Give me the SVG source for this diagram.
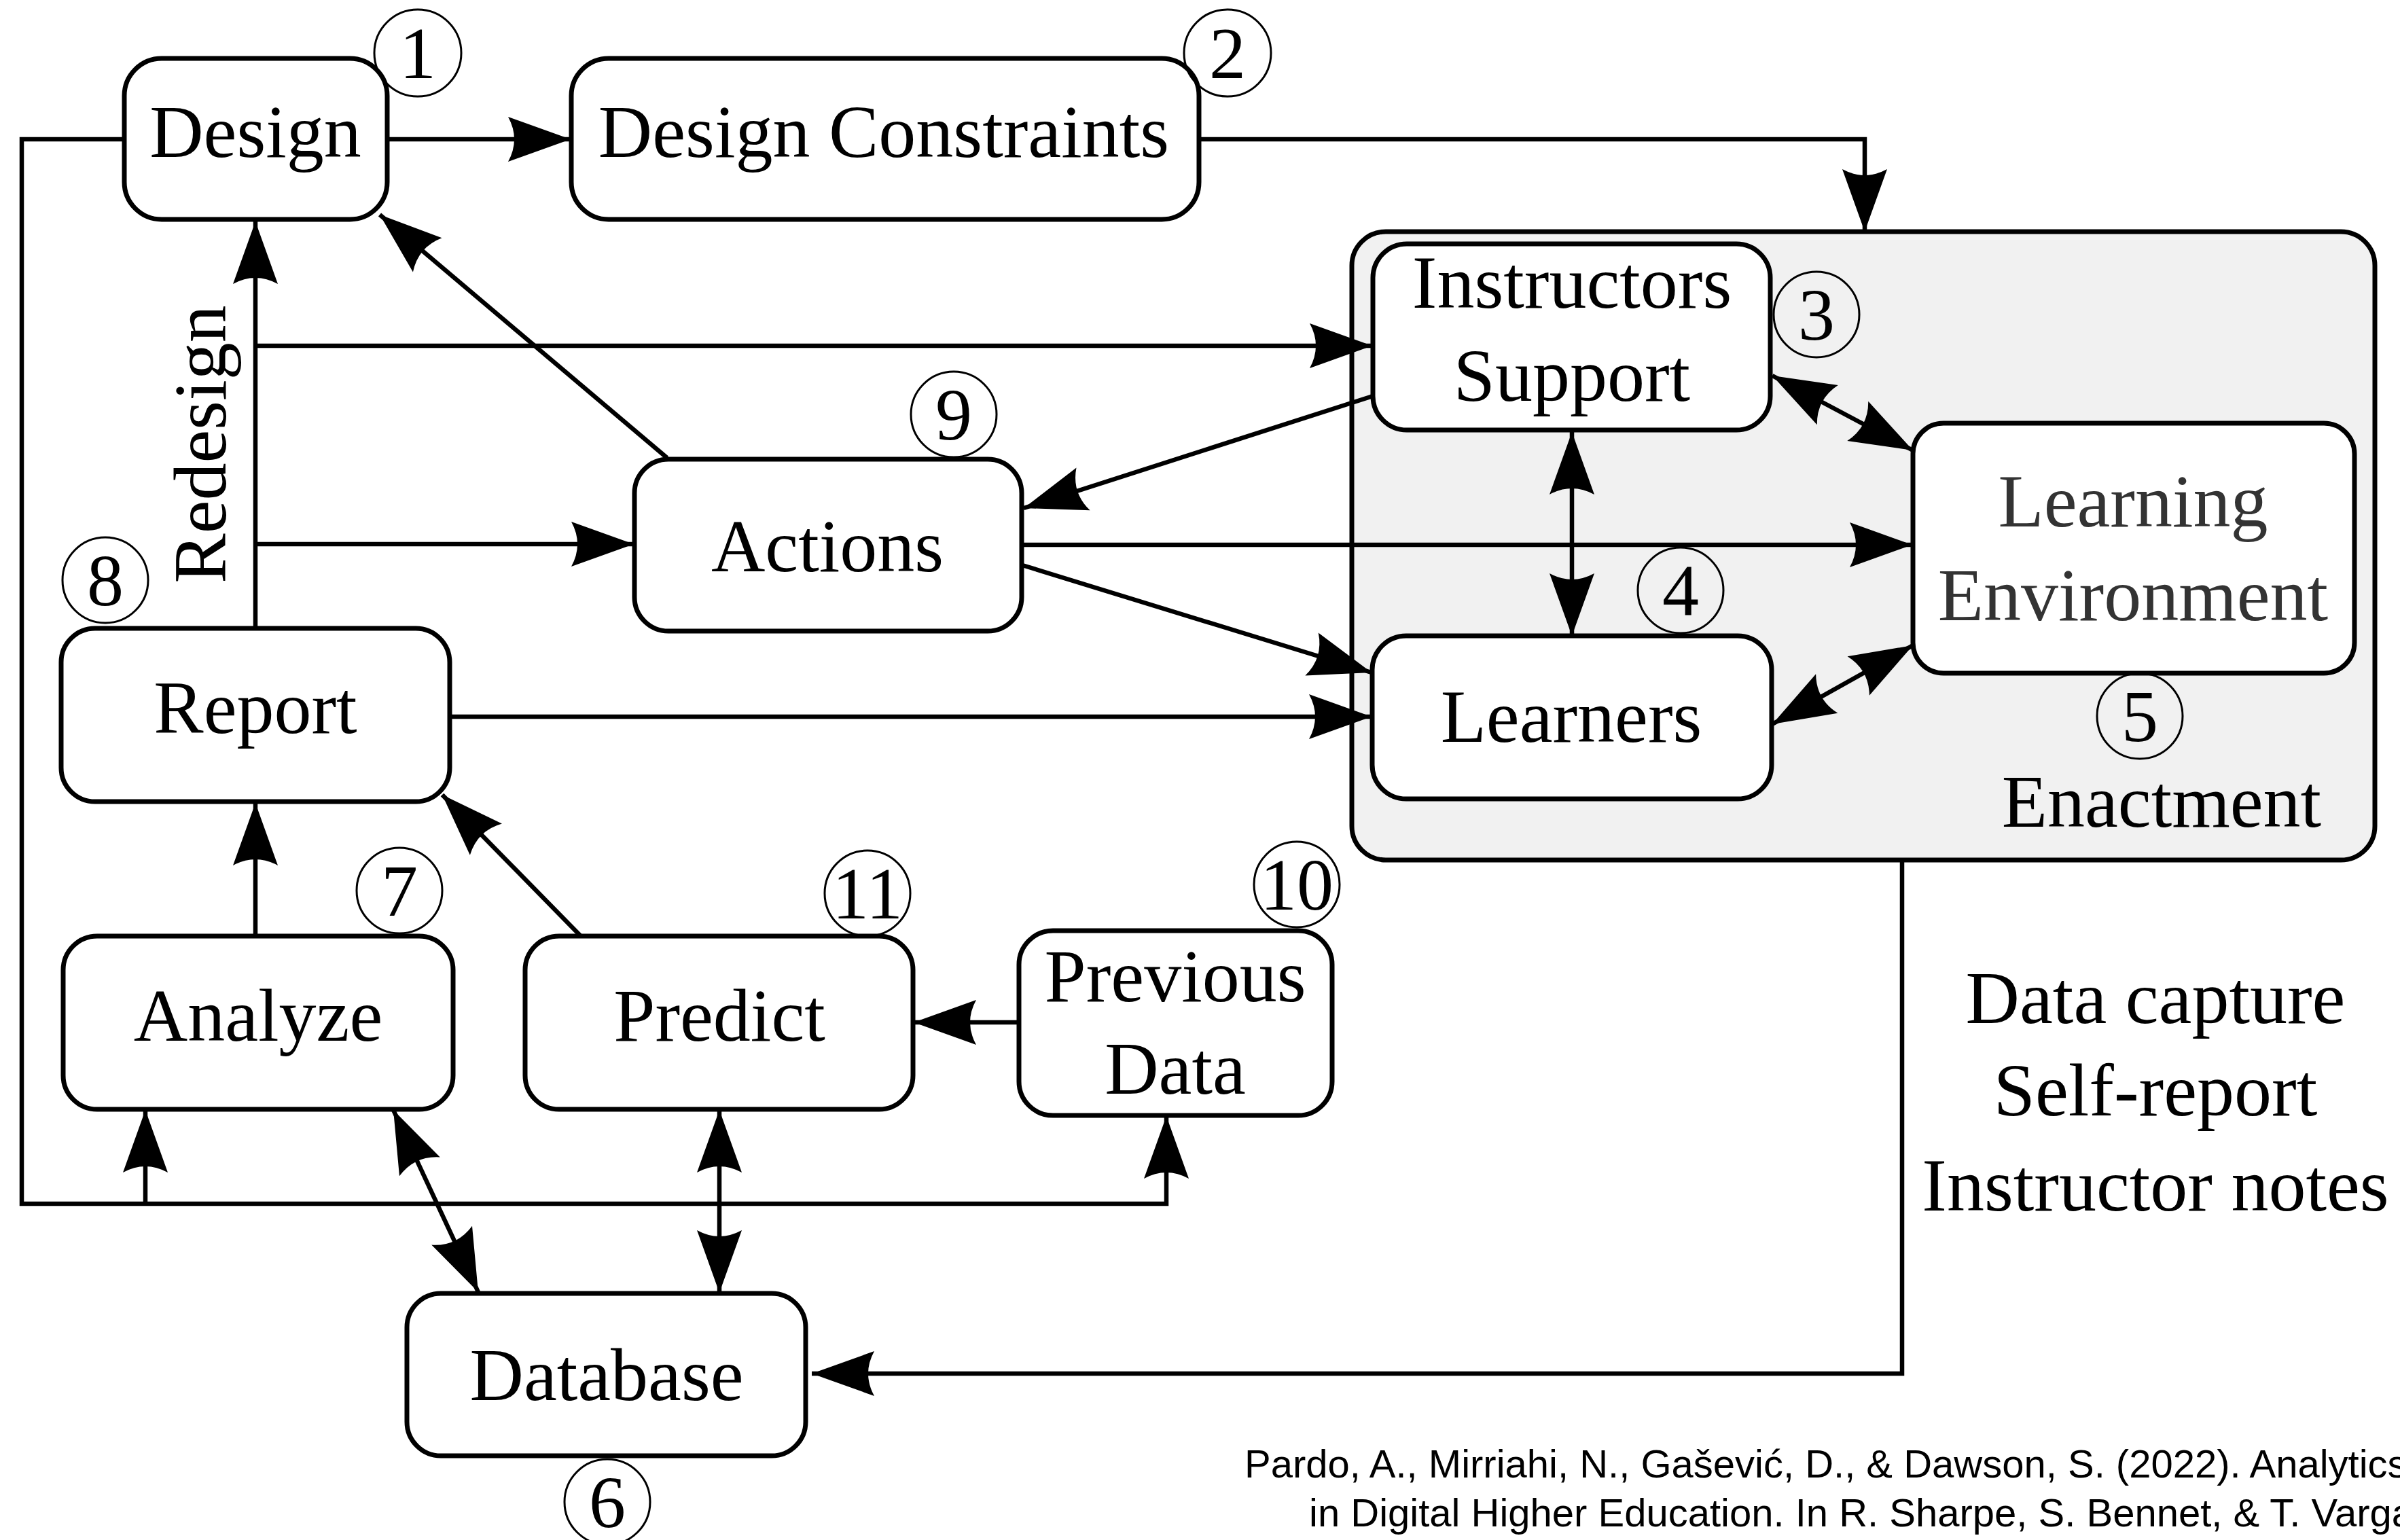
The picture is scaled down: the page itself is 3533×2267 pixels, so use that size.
<svg xmlns="http://www.w3.org/2000/svg" width="3533" height="2267" viewBox="0 0 3533 2267">
  <style>
    .box { fill: #ffffff; stroke: #000000; stroke-width: 7; }
    .frame { fill: #f1f1f1; stroke: #000000; stroke-width: 7; }
    .lbl { font-family: "Liberation Serif", "Times New Roman", serif; font-size: 110px; fill: #000000; text-anchor: middle; }
    .grey { fill: #333333; }
    .num { font-family: "Liberation Serif", "Times New Roman", serif; font-size: 108px; fill: #000000; text-anchor: middle; }
    .ring { fill: none; stroke: #000000; stroke-width: 3; }
    .cite { font-family: "Liberation Sans", Arial, Helvetica, sans-serif; font-size: 58px; fill: #000000; }
    .wire { fill: none; stroke: #000000; stroke-width: 6.5; stroke-linejoin: miter; }
    .one { marker-end: url(#head); }
    .two { marker-start: url(#head); marker-end: url(#head); }
  </style>
  <defs>
    <marker id="head" viewBox="-100 -40 110 80" refX="0" refY="0" markerWidth="110" markerHeight="80" markerUnits="userSpaceOnUse" orient="auto-start-reverse">
      <path d="M0,0 L-92,-33 Q-74,0 -92,33 Z" fill="#000000"/>
    </marker>
  </defs>

  <rect width="3533" height="2267" fill="#ffffff"/>

  <!-- Enactment frame -->
  <g id="enactment">
    <rect class="frame" x="1990" y="341" width="1506" height="925" rx="50"/>
    <text class="lbl" x="3182" y="1217">Enactment</text>
  </g>

  <!-- Connectors -->
  <g id="connectors">
    <path class="wire one" d="M571,205 H840"/>
    <path class="wire one" d="M1765,205 H2745 V341"/>
    <path class="wire one" d="M183,205 H32 V1772 H1717 V1643"/>
    <path class="wire one" d="M214,1772 V1634"/>
    <path class="wire one" d="M376,925 V326"/>
    <path class="wire one" d="M376,509 H2020"/>
    <path class="wire one" d="M376,801 H933"/>
    <path class="wire one" d="M982,674 L559,316"/>
    <path class="wire one" d="M2021,583 L1507,748"/>
    <path class="wire one" d="M1505,802 H2815"/>
    <path class="wire one" d="M1505,832 L2019,990"/>
    <path class="wire one" d="M662,1055 H2019"/>
    <path class="wire two" d="M2314,636 V936"/>
    <path class="wire two" d="M2609,553 L2816,663"/>
    <path class="wire two" d="M2609,1066 L2816,950"/>
    <path class="wire one" d="M376,1378 V1182"/>
    <path class="wire one" d="M854,1377 L651,1170"/>
    <path class="wire one" d="M1500,1505 H1345"/>
    <path class="wire two" d="M579,1634 L704,1902"/>
    <path class="wire two" d="M1059,1634 V1903"/>
    <path class="wire one" d="M2800,1266 V2022 H1195"/>
  </g>

  <!-- Nodes -->
  <g id="design">
    <rect class="box" x="183" y="86" width="387" height="237" rx="55"/>
    <text class="lbl" x="376" y="231">Design</text>
    <circle class="ring" cx="615" cy="78" r="64"/>
    <text class="num" x="615" y="115">1</text>
  </g>

  <g id="design-constraints">
    <rect class="box" x="841" y="86" width="924" height="237" rx="55"/>
    <text class="lbl" x="1301" y="231">Design Constraints</text>
    <circle class="ring" cx="1807" cy="78" r="64"/>
    <text class="num" x="1807" y="115">2</text>
  </g>

  <g id="instructors-support">
    <rect class="box" x="2021" y="359" width="585" height="274" rx="50"/>
    <text class="lbl" x="2314" y="453">Instructors</text>
    <text class="lbl" x="2314" y="590">Support</text>
    <circle class="ring" cx="2674" cy="463" r="63"/>
    <text class="num" x="2674" y="500">3</text>
  </g>

  <g id="learners">
    <rect class="box" x="2020" y="936" width="588" height="240" rx="50"/>
    <text class="lbl" x="2313" y="1092">Learners</text>
    <circle class="ring" cx="2474" cy="869" r="63"/>
    <text class="num" x="2474" y="906">4</text>
  </g>

  <g id="learning-environment">
    <rect class="box" x="2816" y="623" width="650" height="368" rx="45"/>
    <text class="lbl grey" x="3140" y="775">Learning</text>
    <text class="lbl grey" x="3140" y="913">Environment</text>
    <circle class="ring" cx="3150" cy="1054" r="63"/>
    <text class="num" x="3150" y="1091">5</text>
  </g>

  <g id="database">
    <rect class="box" x="599" y="1904" width="587" height="239" rx="50"/>
    <text class="lbl" x="893" y="2061">Database</text>
    <circle class="ring" cx="894" cy="2211" r="63"/>
    <text class="num" x="894" y="2248">6</text>
  </g>

  <g id="analyze">
    <rect class="box" x="93" y="1378" width="574" height="255" rx="50"/>
    <text class="lbl" x="380" y="1532">Analyze</text>
    <circle class="ring" cx="588" cy="1311" r="63"/>
    <text class="num" x="588" y="1348">7</text>
  </g>

  <g id="report">
    <rect class="box" x="90" y="925" width="572" height="255" rx="50"/>
    <text class="lbl" x="376" y="1079">Report</text>
    <circle class="ring" cx="155" cy="854" r="63"/>
    <text class="num" x="155" y="891">8</text>
    <text class="lbl" transform="translate(332,654) rotate(-90)">Redesign</text>
  </g>

  <g id="actions">
    <rect class="box" x="934" y="676" width="570" height="253" rx="50"/>
    <text class="lbl" x="1218" y="841">Actions</text>
    <circle class="ring" cx="1404" cy="610" r="63"/>
    <text class="num" x="1404" y="647">9</text>
  </g>

  <g id="previous-data">
    <rect class="box" x="1500" y="1370" width="461" height="272" rx="50"/>
    <text class="lbl" x="1730" y="1474">Previous</text>
    <text class="lbl" x="1730" y="1610">Data</text>
    <circle class="ring" cx="1909" cy="1302" r="63"/>
    <text class="num" x="1909" y="1339">10</text>
  </g>

  <g id="predict">
    <rect class="box" x="773" y="1378" width="571" height="255" rx="50"/>
    <text class="lbl" x="1059" y="1532">Predict</text>
    <circle class="ring" cx="1277" cy="1315" r="63"/>
    <text class="num" x="1277" y="1352">11</text>
  </g>

  <!-- Data sources feeding the database -->
  <g id="data-sources">
    <text class="lbl" x="3173" y="1506">Data capture</text>
    <text class="lbl" x="3173" y="1642">Self-report</text>
    <text class="lbl" x="3173" y="1782">Instructor notes</text>
  </g>

  <!-- Source reference -->
  <g id="citation">
    <text class="cite" x="1832" y="2175">Pardo, A., Mirriahi, N., Gašević, D., &amp; Dawson, S. (2022). Analytics</text>
    <text class="cite" x="1927" y="2247">in Digital Higher Education. In R. Sharpe, S. Bennet, &amp; T. Varga</text>
  </g>
</svg>
